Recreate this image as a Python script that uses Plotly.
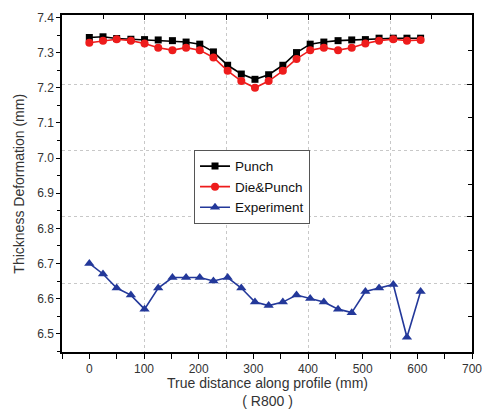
import plotly.graph_objects as go

distance = [0, 25, 50, 76, 101, 126, 152, 177, 202, 227, 253, 278, 303,
            328, 354, 379, 404, 429, 455, 480, 505, 530, 556, 581, 606]
punch = [7.343, 7.345, 7.340, 7.338, 7.337, 7.336, 7.334, 7.330, 7.324, 7.302,
         7.264, 7.239, 7.224, 7.237, 7.264, 7.300, 7.324, 7.330, 7.334, 7.336,
         7.337, 7.341, 7.341, 7.341, 7.341]
die_punch = [7.328, 7.334, 7.338, 7.334, 7.326, 7.314, 7.307, 7.314, 7.307, 7.286,
             7.248, 7.219, 7.200, 7.219, 7.248, 7.282, 7.307, 7.314, 7.307, 7.314,
             7.326, 7.334, 7.338, 7.334, 7.336]
experiment = [6.70, 6.67, 6.63, 6.61, 6.57, 6.63, 6.66, 6.66, 6.66, 6.65,
              6.66, 6.63, 6.59, 6.58, 6.59, 6.61, 6.60, 6.59, 6.57, 6.56,
              6.62, 6.63, 6.64, 6.49, 6.62]

X_TITLE = "True distance along profile (mm)<br>( R800 )"
Y_TITLE = "Thickness Deformation (mm)"

X_RANGE = [-50, 700]
Y_RANGE = [6.448, 7.407]
FONT = "Liberation Sans, Arial, sans-serif"
TXT = "#333333"

fig = go.Figure()

# dummy trace for grid subplot
fig.add_trace(go.Scatter(x=[None], y=[None], xaxis="x", yaxis="y",
                         showlegend=False, hoverinfo="skip"))

fig.add_trace(go.Scatter(x=distance, y=punch, name="Punch", mode="lines+markers",
                         xaxis="x2", yaxis="y2",
                         line=dict(color="#000000", width=1.6),
                         marker=dict(symbol="square", size=7, color="#000000")))
fig.add_trace(go.Scatter(x=distance, y=die_punch, name="Die&Punch", mode="lines+markers",
                         xaxis="x2", yaxis="y2",
                         line=dict(color="#ee1c1c", width=1.6),
                         marker=dict(symbol="circle", size=8, color="#ee1c1c")))
fig.add_trace(go.Scatter(x=distance, y=experiment, name="Experiment", mode="lines+markers",
                         xaxis="x2", yaxis="y2",
                         line=dict(color="#23389a", width=1.6),
                         marker=dict(symbol="triangle-up", size=9, color="#23389a")))

grid_style = dict(showgrid=True, gridcolor="#c8c8c8", griddash="dot", gridwidth=1)

fig.update_layout(
    width=484, height=420,
    margin=dict(l=62, r=12, t=15, b=68, autoexpand=False),
    paper_bgcolor="white", plot_bgcolor="white",
    font=dict(family=FONT, color=TXT, size=12),
    showlegend=True,
    legend=dict(x=0.322, y=0.6, xanchor="left", yanchor="top",
                bgcolor="white", bordercolor="#555555", borderwidth=1,
                font=dict(family=FONT, size=13.5, color="#111111"),
                tracegroupgap=0, itemwidth=30),
    # grid subplot: top x axis and right y axis
    xaxis=dict(range=X_RANGE, side="top", showticklabels=False,
               tickmode="array", tickvals=[100, 250, 400, 550],
               ticks="inside", ticklen=5, tickcolor="#000", tickwidth=1,
               minor=dict(tickmode="array", tickvals=[25, 175, 325, 475, 625],
                          ticks="inside", ticklen=4, tickcolor="#000"),
               showline=True, linecolor="#000", linewidth=1.5,
               zeroline=False, automargin=False, **grid_style),
    yaxis=dict(range=Y_RANGE, side="right", showticklabels=False,
               tickmode="array", tickvals=[7.2105, 7.020, 6.833, 6.643],
               ticks="inside", ticklen=5, tickcolor="#000", tickwidth=1,
               minor=dict(tickmode="array", tickvals=[7.305, 7.115, 6.926, 6.738, 6.548],
                          ticks="inside", ticklen=4, tickcolor="#000"),
               showline=True, linecolor="#000", linewidth=1.5,
               zeroline=False, automargin=False, **grid_style),
    # data subplot: bottom x axis and left y axis
    xaxis2=dict(range=X_RANGE, overlaying="x", side="bottom", anchor="y2",
                tickmode="linear", tick0=0, dtick=100,
                ticks="outside", ticklen=5, tickcolor="#000", tickwidth=1,
                minor=dict(tick0=0, dtick=50, ticks="outside", ticklen=5, tickcolor="#000"),
                showline=True, linecolor="#000", linewidth=1.5,
                showgrid=False, zeroline=False, automargin=False,
                tickfont=dict(size=12, color=TXT)),
    yaxis2=dict(range=Y_RANGE, overlaying="y", side="left", anchor="x2",
                tickmode="linear", tick0=6.5, dtick=0.1, tickformat=".1f",
                ticks="outside", ticklen=4, tickcolor="#000", tickwidth=1,
                minor=dict(tick0=6.5, dtick=0.05, ticks="outside", ticklen=3, tickcolor="#000"),
                showline=True, linecolor="#000", linewidth=1.5,
                showgrid=False, zeroline=False, automargin=False,
                tickfont=dict(size=12, color=TXT)),
    annotations=[
        dict(text=X_TITLE, xref="paper", yref="paper", x=0.5, y=-0.119,
             xanchor="center", yanchor="middle", showarrow=False,
             font=dict(size=14, color=TXT, family=FONT)),
        dict(text=Y_TITLE, xref="paper", yref="paper", x=-0.107, y=0.5,
             xanchor="center", yanchor="middle", showarrow=False, textangle=-90,
             font=dict(size=14, color=TXT, family=FONT)),
    ],
)

fig.write_html("out.html",
               config={"displayModeBar": False},
               post_script="document.body.style.margin='0';document.body.style.overflow='hidden';")
